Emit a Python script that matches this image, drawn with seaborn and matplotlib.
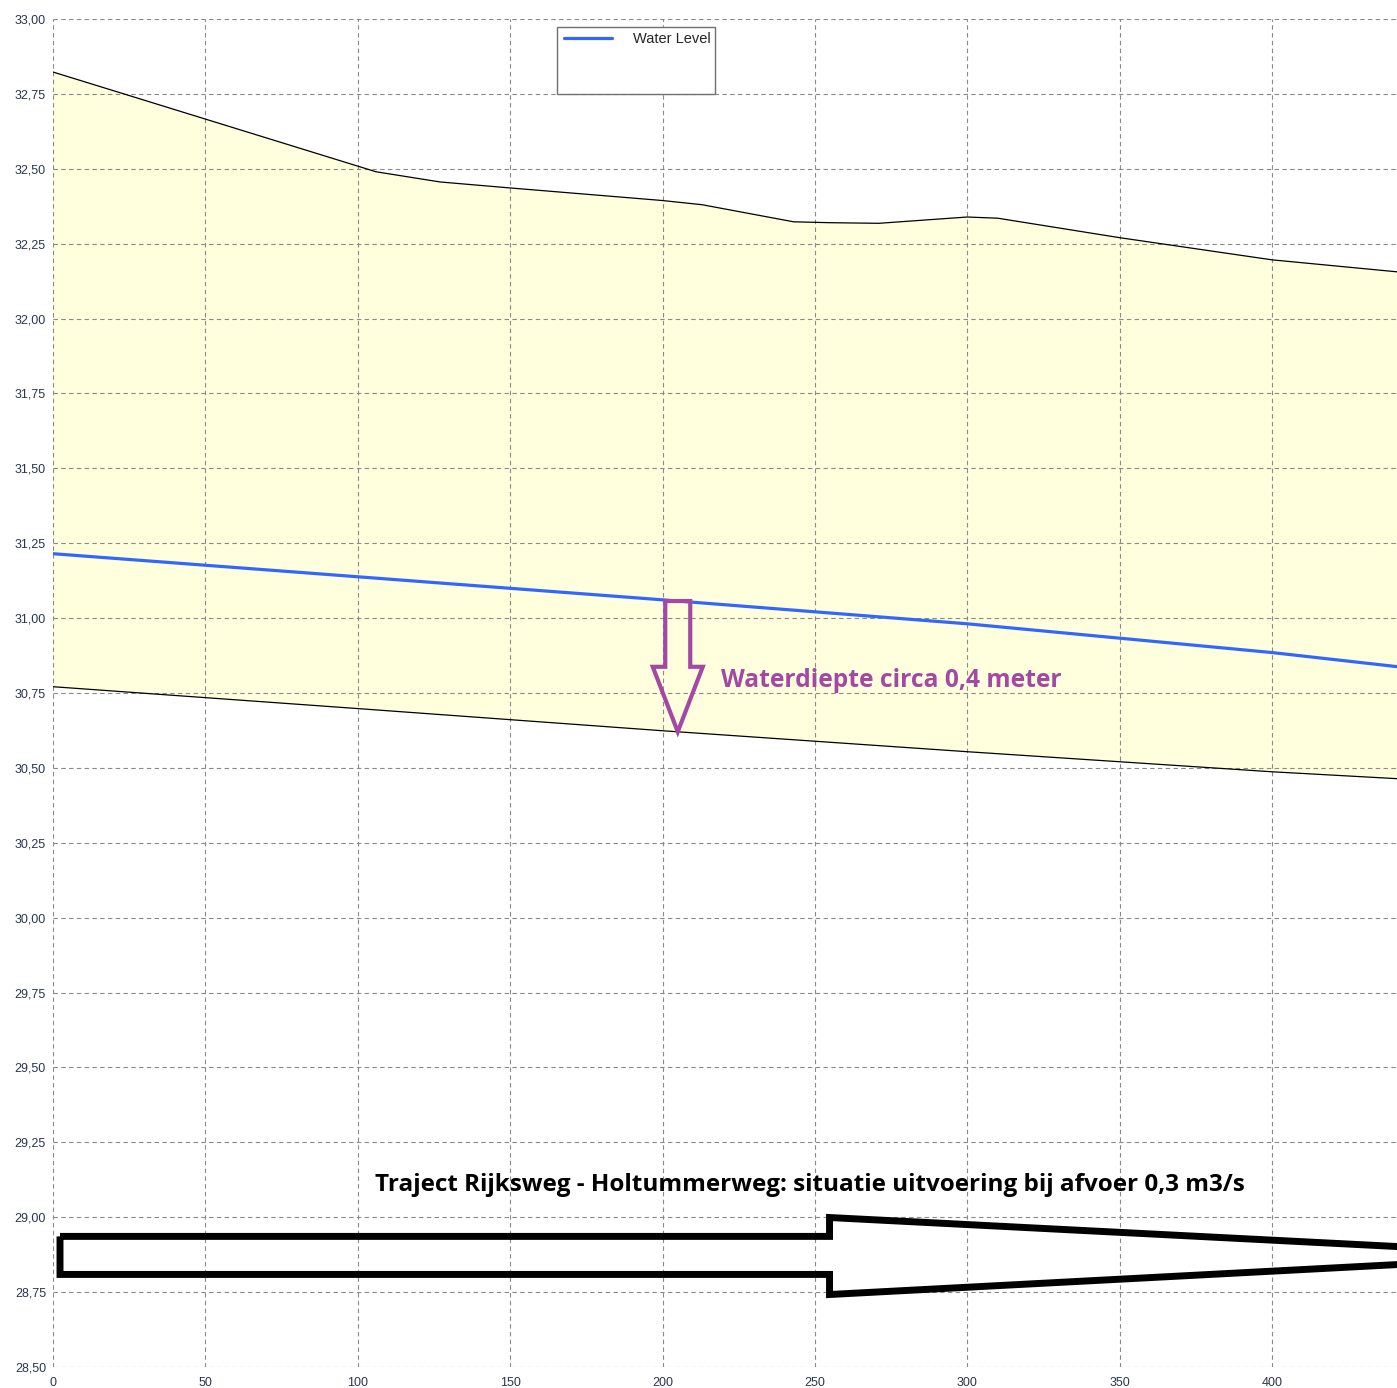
import numpy as np
import matplotlib
matplotlib.use("Agg")
import matplotlib.pyplot as plt
from matplotlib.patches import Polygon, Rectangle
from matplotlib.lines import Line2D
from matplotlib.ticker import FuncFormatter, MultipleLocator
import seaborn as sns

# ---- data ----
# upper profile line (bank / road level)
bank_x = [0, 106, 127, 150, 200, 213, 243, 255, 271, 300, 310, 350, 400, 441]
bank_y = [32.823, 32.49, 32.456, 32.436, 32.394, 32.38, 32.323, 32.32, 32.318, 32.339, 32.335, 32.27, 32.196, 32.156]

# water level
water_x = [0, 100, 200, 300, 400, 441]
water_y = [31.215, 31.138, 31.061, 30.981, 30.885, 30.838]

# bed level
bed_x = [0, 100, 200, 300, 400, 441]
bed_y = [30.771, 30.698, 30.624, 30.554, 30.487, 30.464]

x_ticks = list(range(0, 401, 50))
depth_label = "Waterdiepte circa 0,4 meter"
title_label = "Traject Rijksweg - Holtummerweg: situatie uitvoering bij afvoer 0,3 m3/s"

BLUE = "#3366FF"
PURPLE = "#A349A4"
FILL = "#FFFFDD"
GRID = "#8a8a8a"

sns.set_style("white")
plt.rcParams["font.family"] = ["Liberation Sans", "DejaVu Sans"]

fig = plt.figure(figsize=(13.97, 13.88), dpi=100)
ax = fig.add_axes([53 / 1397, 21 / 1388, 1 - 53 / 1397, 1348 / 1388])

# yellow zone between bank and bed
ax.fill(np.r_[bank_x, bed_x[::-1]], np.r_[bank_y, bed_y[::-1]],
        color=FILL, lw=0, zorder=1)

sns.lineplot(x=bank_x, y=bank_y, ax=ax, color="black", lw=0.9, zorder=3)
sns.lineplot(x=bed_x, y=bed_y, ax=ax, color="black", lw=0.9, zorder=3)
sns.lineplot(x=water_x, y=water_y, ax=ax, color=BLUE, lw=2.3, zorder=4)

ax.set_xlim(0, 441)
ax.set_ylim(28.5, 33.0)
ax.set_xticks(x_ticks)
ax.yaxis.set_major_locator(MultipleLocator(0.25))
ax.yaxis.set_major_formatter(FuncFormatter(lambda v, p: f"{v:.2f}".replace(".", ",")))
ax.xaxis.set_major_formatter(FuncFormatter(lambda v, p: f"{v:.0f}"))
ax.tick_params(axis="both", length=0, labelsize=9, labelcolor="#2b3550")
ax.tick_params(axis="y", pad=5)
ax.tick_params(axis="x", pad=7)
ax.grid(True, color=GRID, lw=0.8, linestyle=(0, (4, 3)), zorder=2)
ax.set_axisbelow(False)
for s in ax.spines.values():
    s.set_visible(False)
ax.set_xlabel("")
ax.set_ylabel("")

# purple hollow arrow showing water depth
ax_x = 205
top = np.interp(ax_x, water_x, water_y)
tip = np.interp(ax_x, bed_x, bed_y)
sw, hw, hstart = 4.1, 8.2, tip + 0.217
arrow_pts = [(ax_x - sw, top), (ax_x + sw, top), (ax_x + sw, hstart), (ax_x + hw, hstart),
             (ax_x, tip), (ax_x - hw, hstart), (ax_x - sw, hstart)]
ax.add_patch(Polygon(arrow_pts, closed=True, fill=False, edgecolor=PURPLE,
                     lw=3, joinstyle="miter", zorder=6))
ax.text(219.3, 30.791, depth_label, color=PURPLE, fontsize=17.7, fontweight="bold",
        family=["Open Sans", "DejaVu Sans"], ha="left", va="center", zorder=6)

# big flow arrow with title
ax.text(105.6, 29.108, title_label, color="black", fontsize=17.5, fontweight="bold",
        family=["Open Sans", "DejaVu Sans"], ha="left", va="center", zorder=6)
flow_pts = [(2.3, 28.936), (254.8, 28.936), (254.8, 28.999), (498, 28.8725),
            (254.8, 28.742), (254.8, 28.809), (2.3, 28.809)]
ax.add_patch(Polygon(flow_pts, closed=True, fill=False, edgecolor="black",
                     lw=5, joinstyle="miter", zorder=6))

# legend box
fig.add_artist(Rectangle((557 / 1397, 1 - 94 / 1388), 158 / 1397, 67 / 1388,
                         transform=fig.transFigure, fill=True, facecolor="white",
                         edgecolor="#707070", lw=1.0, zorder=10))
handle = Line2D([], [], color=BLUE, lw=2.3)
fig.legend([handle], ["Water Level"], loc="upper left",
           bbox_to_anchor=(564 / 1397, 1 - 32 / 1388), frameon=False,
           fontsize=10.5, handlelength=3.3, handletextpad=1.4, borderpad=0,
           borderaxespad=0).set_zorder(11)

fig.savefig("out.png", dpi=100)
